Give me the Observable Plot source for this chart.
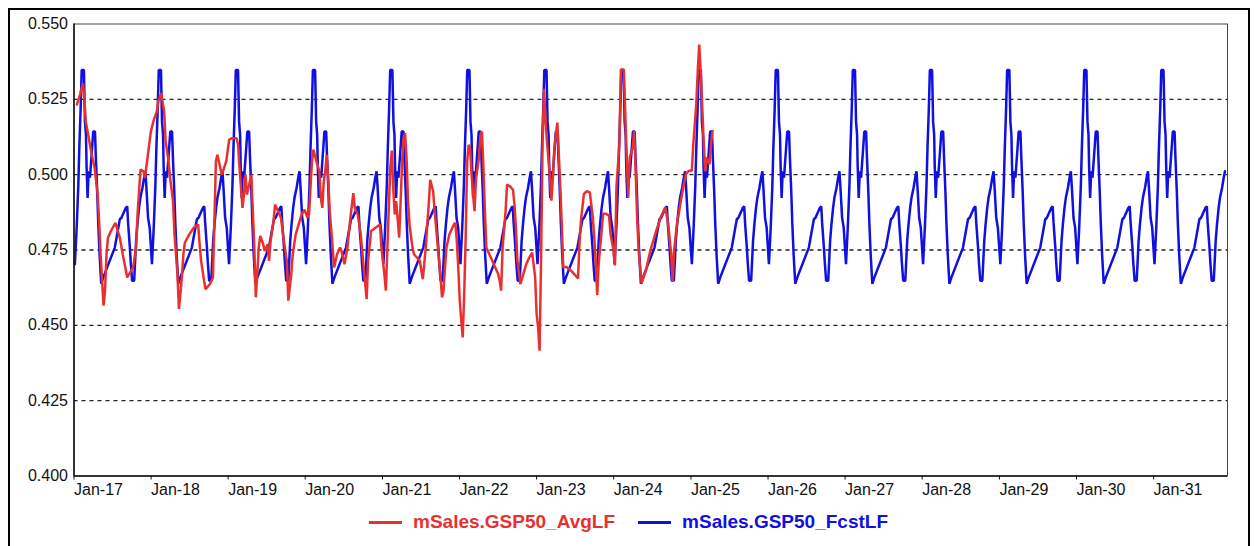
<!DOCTYPE html>
<html>
<head>
<meta charset="utf-8">
<script src="https://cdn.jsdelivr.net/npm/d3@7"></script>
<script src="https://cdn.jsdelivr.net/npm/@observablehq/plot@0.6"></script>
<style>
  html, body { margin: 0; padding: 0; background: #fff; }
  #chart { position: relative; width: 1257px; height: 546px; overflow: hidden;
           font-family: "Liberation Sans", Arial, sans-serif; }
  #chart .outline { position: absolute; left: 8px; top: 8px; width: 1242px; height: 580px;
                    border: 2px solid #000; box-sizing: border-box; pointer-events: none; }
  #legend { display: flex; justify-content: center; align-items: center; gap: 23px;
            margin-top: 5px; font-weight: bold; font-size: 19px; line-height: 22px; }
  #legend .item { display: flex; align-items: center; gap: 11px; }
  #legend .swatch { width: 33px; height: 3px; }
</style>
</head>
<body>
<div id="chart"><div class="outline"></div></div>
<script>
// Series names and colours
const seriesNames = ["mSales.GSP50_AvgLF", "mSales.GSP50_FcstLF"];
const seriesColors = ["#e8312f", "#1010e0"];

// Axis ticks
const yTickValues = [0.400, 0.425, 0.450, 0.475, 0.500, 0.525, 0.550];
const gridValues = [0.425, 0.450, 0.475, 0.500, 0.525];
const tickYears = [2017, 2018, 2019, 2020, 2021, 2022, 2023, 2024, 2025, 2026, 2027, 2028, 2029, 2030, 2031];

// Actual weekly load factor (week number counted from 1 Jan 2017)
const avgWeek = [
  2, 4, 6, 7, 8, 10, 12, 14, 16, 17, 18, 19, 20, 21, 22, 23, 25, 28, 31, 33,
  36, 40, 42, 43, 45, 47, 48, 50, 52, 54, 56, 57, 59, 61, 62, 64, 65, 67, 68, 70,
  71, 73, 74, 75, 78, 81, 84, 85, 86, 88, 89, 92, 94, 95, 96, 97, 100, 103, 105, 107,
  110, 111, 112, 114, 115, 116, 117, 118, 120, 121, 122, 123, 124, 125, 126, 128, 129, 131, 132, 133,
  135, 136, 139, 140, 142, 144, 145, 147, 148, 150, 152, 154, 156, 158, 159, 160, 161, 162, 164, 166,
  167, 168, 169, 170, 171, 172, 173, 175, 176, 177, 178, 180, 181, 183, 185, 187, 189, 190, 192, 194,
  196, 198, 199, 201, 204, 207, 208, 210, 211, 213, 214, 215, 216, 217, 218, 220, 221, 222, 223, 224,
  225, 226, 227, 229, 230, 232, 234, 235, 236, 238, 239, 240, 241, 243, 244, 245, 247, 248, 249, 250,
  251, 252, 254, 257, 258, 259, 260, 261, 262, 263, 264, 265, 266, 267, 268, 269, 270, 271, 272, 274,
  275, 276, 277, 278, 279, 280, 283, 285, 287, 288, 289, 290, 292, 293, 295, 297, 298, 299, 300, 302,
  304, 306, 308, 310, 312, 313, 314, 315, 316, 317, 318, 319, 320, 322, 323, 324, 325, 327, 328, 329,
  330, 331, 333, 336, 341, 342, 343, 345, 347, 349, 351, 352, 353, 354, 355, 357, 358, 360, 362, 363,
  365, 366, 367, 369, 370, 372, 373, 374, 375, 376, 378, 379, 380, 381, 382, 384, 387, 390, 394, 397,
  400, 402, 404, 405, 406, 408, 411, 414, 416, 418, 419, 421, 422, 423, 424, 425, 426, 427, 428, 430,
  431, 432
];
const avgLF = [
  0.5233, 0.5264, 0.5303, 0.5253, 0.5176, 0.5121, 0.5066, 0.5022, 0.4934, 0.4846, 0.4736, 0.4648, 0.4565, 0.4615, 0.4736, 0.4791, 0.4813, 0.4840, 0.4791, 0.4736,
  0.4659, 0.4692, 0.4758, 0.4868, 0.5017, 0.5011, 0.4989, 0.5066, 0.5143, 0.5182, 0.5209, 0.5242, 0.5270, 0.5209, 0.5110, 0.5044, 0.4989, 0.4912, 0.4802, 0.4670,
  0.4554, 0.4659, 0.4736, 0.4774, 0.4802, 0.4824, 0.4835, 0.4769, 0.4714, 0.4648, 0.4620, 0.4637, 0.4659, 0.4846, 0.5044, 0.5066, 0.5000, 0.5044, 0.5116, 0.5121,
  0.5121, 0.5099, 0.5022, 0.4890, 0.4934, 0.5000, 0.4934, 0.4956, 0.5000, 0.4879, 0.4758, 0.4593, 0.4670, 0.4758, 0.4797, 0.4769, 0.4747, 0.4769, 0.4714, 0.4780,
  0.4846, 0.4901, 0.4868, 0.4857, 0.4780, 0.4714, 0.4582, 0.4670, 0.4736, 0.4802, 0.4835, 0.4868, 0.4884, 0.4857, 0.4868, 0.4956, 0.5044, 0.5083, 0.5044, 0.5011,
  0.4923, 0.4890, 0.4978, 0.5011, 0.5066, 0.4989, 0.4879, 0.4758, 0.4692, 0.4714, 0.4736, 0.4758, 0.4747, 0.4703, 0.4758, 0.4857, 0.4939, 0.4890, 0.4868, 0.4802,
  0.4692, 0.4587, 0.4714, 0.4813, 0.4824, 0.4835, 0.4758, 0.4670, 0.4615, 0.4890, 0.5022, 0.5080, 0.4956, 0.4868, 0.4912, 0.4791, 0.4912, 0.5044, 0.5121, 0.5138,
  0.5055, 0.4912, 0.4835, 0.4758, 0.4736, 0.4725, 0.4714, 0.4681, 0.4653, 0.4758, 0.4835, 0.4901, 0.4983, 0.4945, 0.4879, 0.4824, 0.4714, 0.4659, 0.4593, 0.4615,
  0.4692, 0.4758, 0.4802, 0.4835, 0.4840, 0.4780, 0.4692, 0.4582, 0.4516, 0.4460, 0.4604, 0.4791, 0.5044, 0.5099, 0.5088, 0.5000, 0.4934, 0.4879, 0.4989, 0.5055,
  0.5132, 0.5143, 0.5022, 0.4879, 0.4758, 0.4747, 0.4714, 0.4692, 0.4670, 0.4648, 0.4615, 0.4758, 0.4879, 0.4967, 0.4961, 0.4950, 0.4901, 0.4824, 0.4714, 0.4637,
  0.4670, 0.4703, 0.4725, 0.4741, 0.4659, 0.4538, 0.4493, 0.4416, 0.4714, 0.5099, 0.5285, 0.5180, 0.5110, 0.4991, 0.4914, 0.4991, 0.5090, 0.5173, 0.5068, 0.4958,
  0.4837, 0.4694, 0.4694, 0.4683, 0.4656, 0.4771, 0.4848, 0.4936, 0.4945, 0.4941, 0.4859, 0.4793, 0.4705, 0.4600, 0.4705, 0.4815, 0.4870, 0.4870, 0.4864, 0.4804,
  0.4749, 0.4699, 0.4958, 0.5101, 0.5349, 0.5349, 0.5200, 0.5050, 0.4925, 0.5057, 0.5090, 0.5145, 0.5013, 0.4859, 0.4749, 0.4639, 0.4683, 0.4749, 0.4815, 0.4859,
  0.4892, 0.4837, 0.4738, 0.4644, 0.4749, 0.4837, 0.4925, 0.5002, 0.5013, 0.5013, 0.5101, 0.5233, 0.5343, 0.5432, 0.5343, 0.5233, 0.5112, 0.5013, 0.5057, 0.5035,
  0.5101, 0.5145
];

// Forecast: one seasonal year of weekly load factor, repeated for every forecast year
const fcstYears = [2017, 2018, 2019, 2020, 2021, 2022, 2023, 2024, 2025, 2026, 2027, 2028, 2029, 2030, 2031];
const fcstWeekOfYear = [
  0.6, 1.8, 2.9, 3.6, 4.5, 5.2, 6.7, 7.4, 8.1, 8.5, 9.2, 9.9, 10.8, 11.9, 13.0, 14.2, 14.8, 15.7, 16.4, 17.3,
  18.4, 19.8, 27.6, 31.0, 32.1, 35.1, 36.0, 36.6, 37.8, 38.4, 39.3, 40.7, 41.3, 42.0, 42.9, 44.0, 44.9, 46.3, 47.4, 48.3,
  49.0, 50.1, 51.2
];
const fcstLF = [
  0.4703, 0.4824, 0.4961, 0.5088, 0.5220, 0.5347, 0.5347, 0.5176, 0.5132, 0.5028, 0.4923, 0.5011, 0.4990, 0.5066, 0.5143, 0.5143, 0.5055, 0.4945, 0.4840, 0.4736,
  0.4638, 0.4659, 0.4758, 0.4852, 0.4857, 0.4890, 0.4895, 0.4840, 0.4758, 0.4708, 0.4648, 0.4648, 0.4708, 0.4780, 0.4835, 0.4890, 0.4923, 0.4956, 0.4989, 0.5011,
  0.4956, 0.4857, 0.4824
];
const fcstLastWeek = 48.3; // the forecast stops at this week of its final year

const DAY = 864e5;
const base = Date.UTC(2017, 0, 1);

const actual = avgWeek.map((w, i) => ({date: new Date(base + w * 7 * DAY), value: avgLF[i]}));
const forecast = [];
fcstYears.forEach((yr, k) => {
  const start = Date.UTC(yr, 0, 1);
  fcstWeekOfYear.forEach((w, i) => {
    if (k === fcstYears.length - 1 && w > fcstLastWeek) return;
    forecast.push({date: new Date(start + w * 7 * DAY), value: fcstLF[i]});
  });
});

const xDomain = [new Date(base), new Date(Date.UTC(2031, 11, 17))];
const yearTicks = tickYears.map(y => new Date(Date.UTC(y, 0, 1)));

const svg = Plot.plot({
  width: 1257,
  height: 506,
  marginLeft: 73.5,
  marginRight: 30,
  marginTop: 23.5,
  marginBottom: 30.5,
  style: {fontFamily: "'Liberation Sans', Arial, sans-serif", fontSize: "16px", color: "#111", background: "transparent"},
  x: {type: "utc", domain: xDomain, label: null},
  y: {domain: [0.4, 0.55], label: null},
  marks: [
    Plot.ruleY(gridValues, {stroke: "#222", strokeWidth: 1.3, strokeDasharray: "4,4"}),
    Plot.line(forecast, {x: "date", y: "value", stroke: seriesColors[1], strokeWidth: 2.5, strokeLinejoin: "miter"}),
    Plot.line(actual, {x: "date", y: "value", stroke: seriesColors[0], strokeWidth: 2.5, strokeLinejoin: "miter"}),
    Plot.frame({stroke: "#444", strokeWidth: 1}),
    Plot.ruleX([xDomain[0]], {stroke: "#111", strokeWidth: 1.5}),
    Plot.ruleY([0.4], {stroke: "#111", strokeWidth: 1.5}),
    Plot.axisY({ticks: yTickValues, tickFormat: d3.format(".3f"), tickSize: 0, tickPadding: 6, fill: "#111", label: null}),
    Plot.axisX({ticks: yearTicks, tickFormat: d3.utcFormat("%b-%y"), tickSize: 4, tickPadding: 4,
                textAnchor: "start", stroke: "#111", fill: "#111", label: null})
  ]
});
const chart = document.getElementById("chart");
chart.appendChild(svg);

// Legend below the plot
const legend = document.createElement("div");
legend.id = "legend";
seriesNames.forEach((name, i) => {
  const item = document.createElement("div");
  item.className = "item";
  const sw = document.createElement("span");
  sw.className = "swatch";
  sw.style.background = seriesColors[i];
  const label = document.createElement("span");
  label.textContent = name;
  label.style.color = seriesColors[i];
  item.append(sw, label);
  legend.appendChild(item);
});
chart.appendChild(legend);
</script>
</body>
</html>
